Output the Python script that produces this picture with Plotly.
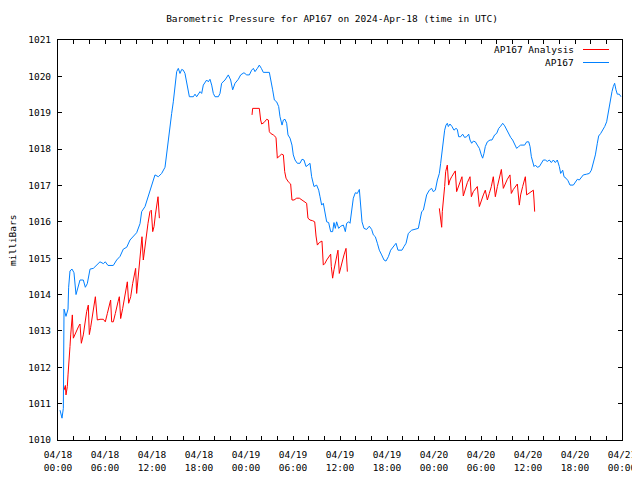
import pandas as pd
import plotly.graph_objects as go

BASE = pd.Timestamp("2024-04-18 00:00")

# AP167 observed pressure: hours since 2024-04-18 00:00 UTC, millibars
obs_hours = [0.26, 0.51, 0.68, 0.77, 1.02, 1.28, 1.36, 1.53, 1.79, 2.04, 2.30, 2.55, 2.81, 3.23, 3.49, 3.74,
             4.09, 4.51, 4.94, 5.36, 5.79, 6.04, 6.38, 7.06, 7.49, 7.92, 8.34, 8.77, 9.19, 9.62, 10.04, 10.47,
             10.68, 11.11, 11.53, 11.96, 12.38, 12.81, 13.23, 13.66, 13.87, 14.09, 14.30, 14.51, 14.72, 14.94,
             15.15, 15.36, 15.57, 15.79, 16.00, 16.21, 16.43, 16.64, 16.77, 17.28, 17.49, 17.70, 18.13, 18.34,
             18.55, 18.98, 19.19, 19.40, 19.62, 19.83, 20.04, 20.47, 20.68,
             20.89, 21.32, 21.74, 22.04, 22.30, 22.60, 23.02, 23.32, 23.74, 24.09, 24.43, 24.72, 24.94, 25.15,
             25.45, 25.70, 25.96, 26.21, 26.98, 27.15, 27.40, 27.62, 27.91, 28.17, 28.34, 28.60, 28.77, 28.98,
             29.19, 29.36, 29.62, 29.87, 30.04, 30.26, 30.55, 30.89, 31.15, 31.40, 31.66, 31.91, 32.17, 32.38,
             32.68, 33.02, 33.28, 33.45, 33.66, 33.87, 34.09, 34.30, 34.55, 34.81, 35.06, 35.23, 35.40, 35.57,
             35.83, 36.09, 36.43, 36.68, 36.85, 37.11, 37.28, 37.45, 37.70, 37.96, 38.21, 38.47, 38.64, 38.81,
             39.06, 39.40, 39.74, 40.04, 40.26, 40.51, 40.77, 41.02, 41.32, 41.62, 41.87, 42.17, 42.47, 42.81,
             43.15, 43.40, 43.91, 44.17, 44.43, 44.72, 45.15, 46.00, 46.21, 46.43, 46.64, 46.85, 47.06, 47.40,
             47.70, 47.91, 48.17, 48.43, 48.68, 48.85, 49.02, 49.19, 49.36, 49.53, 49.70, 49.83, 50.04, 50.30,
             50.55, 50.81, 50.98, 51.15, 51.40, 51.66, 51.91, 52.17, 52.43, 52.60, 52.81, 53.02, 53.28, 53.53,
             53.79, 54.04, 54.21, 54.38, 54.55, 54.81, 55.15, 55.40, 55.74, 56.00, 56.26, 56.51, 56.77, 57.02,
             57.28, 57.53, 57.79, 58.04, 58.30, 58.55, 58.81, 59.06, 59.57, 59.83, 60.09, 60.26, 60.43, 60.60,
             60.77, 60.94, 61.19, 61.45, 61.70, 61.96, 62.21, 62.47, 62.72, 62.98, 63.23, 63.49, 63.74, 64.00,
             64.17, 64.43, 64.60, 64.85, 65.11, 65.36, 65.79, 66.04, 66.30, 66.55, 66.81, 67.06, 67.49, 67.83,
             68.09, 68.34, 68.60, 68.85, 69.02, 69.28, 69.53, 69.79, 70.04, 70.21, 70.38, 70.55, 70.72, 70.89,
             71.06, 71.23, 71.40, 71.66, 71.87]
obs_mb = [1010.82, 1010.60, 1010.87, 1013.60, 1013.40, 1013.60, 1014.20, 1014.65, 1014.70, 1014.60, 1014.00,
          1014.20, 1014.40, 1014.40, 1014.20, 1014.30, 1014.70, 1014.72, 1014.80, 1014.90, 1014.85, 1014.90,
          1014.80, 1014.80, 1014.95, 1015.05, 1015.25, 1015.30, 1015.50, 1015.60, 1015.70, 1015.95, 1016.28,
          1016.42, 1016.70, 1016.97, 1017.29, 1017.24, 1017.33, 1017.50, 1017.88, 1018.39, 1018.70, 1018.98,
          1019.30, 1019.76, 1020.13, 1020.22, 1020.08, 1020.19, 1020.17, 1020.08, 1019.85, 1019.63, 1019.44,
          1019.44, 1019.51, 1019.44, 1019.58, 1019.53, 1019.76, 1019.90, 1019.85, 1019.92, 1019.76, 1019.53,
          1019.44, 1019.44, 1019.53,
          1019.81, 1019.90, 1020.04, 1019.90, 1019.63, 1019.81, 1019.92, 1020.04, 1020.10, 1020.04, 1020.04,
          1020.17, 1020.22, 1020.13, 1020.22, 1020.31, 1020.22, 1020.11, 1020.11, 1019.95, 1019.63, 1019.35,
          1019.30, 1019.17, 1018.89, 1018.66, 1018.80, 1018.82, 1018.71, 1018.39, 1018.30, 1018.11, 1017.84,
          1017.70, 1017.61, 1017.61, 1017.72, 1017.70, 1017.52, 1017.56, 1017.61, 1017.24, 1016.97, 1017.01,
          1016.87, 1016.69, 1016.46, 1016.51, 1016.23, 1016.00, 1015.98, 1015.73, 1015.73, 1015.98, 1015.82,
          1016.00, 1015.82, 1015.88, 1015.91, 1015.73, 1015.96, 1016.00, 1015.96, 1016.32, 1016.65, 1016.80,
          1016.78, 1016.89, 1016.51, 1016.00, 1015.82, 1015.79, 1015.88, 1015.79, 1015.64, 1015.59, 1015.41,
          1015.22, 1015.09, 1014.95, 1014.92, 1015.04, 1015.22, 1015.32, 1015.41, 1015.22, 1015.22, 1015.32,
          1015.41, 1015.68, 1015.77, 1015.82, 1016.05, 1016.28, 1016.32, 1016.51, 1016.74, 1016.87, 1016.92,
          1016.83, 1016.87, 1017.15, 1017.33, 1017.61, 1017.93, 1018.25, 1018.52, 1018.66, 1018.71, 1018.62,
          1018.69, 1018.62, 1018.52, 1018.57, 1018.54, 1018.34, 1018.34, 1018.41, 1018.32, 1018.34, 1018.41,
          1018.25, 1018.16, 1018.22, 1018.20, 1018.11, 1018.02, 1017.84, 1017.75, 1017.88, 1018.07, 1018.20,
          1018.25, 1018.25, 1018.39, 1018.43, 1018.57, 1018.63, 1018.71, 1018.64, 1018.52, 1018.43, 1018.32,
          1018.25, 1018.14, 1018.02, 1018.07, 1018.11, 1018.11, 1018.20, 1018.20, 1018.07, 1017.79, 1017.61,
          1017.52, 1017.56, 1017.50, 1017.52, 1017.61, 1017.70, 1017.70, 1017.66, 1017.70, 1017.63, 1017.70,
          1017.63, 1017.70, 1017.52, 1017.33, 1017.42, 1017.24, 1017.20, 1017.13, 1017.01, 1017.01, 1017.10,
          1017.17, 1017.15, 1017.24, 1017.29, 1017.31, 1017.33, 1017.42, 1017.61, 1017.84, 1018.16, 1018.36,
          1018.43, 1018.52, 1018.62, 1018.75, 1018.98, 1019.17, 1019.35, 1019.58, 1019.72, 1019.81, 1019.63,
          1019.51, 1019.51, 1019.44]

# AP167 Analysis: three separate forecast runs (None = gap)
ana_hours = [0.77, 0.94, 1.02, 1.19, 1.28, 1.36, 1.53, 1.62, 1.70, 1.83, 1.96, 2.13, 2.38, 2.64, 2.81, 2.98,
             3.23, 3.49, 3.66, 3.87, 4.00, 4.17, 4.43, 4.60, 4.77, 5.02, 5.36, 5.79, 6.04, 6.30, 6.55, 6.72,
             6.85, 7.06, 7.32, 7.49, 7.66, 7.83, 8.00, 8.26, 8.51, 8.68, 8.85, 9.02, 9.28, 9.53, 9.79, 9.91,
             10.04, 10.21, 10.38, 10.55, 10.72, 10.89, 11.06, 11.32, 11.49, 11.74, 11.91, 12.09, 12.26, 12.43,
             12.60, 12.77, 12.94,
             None,
             24.77, 24.85, 25.15, 25.70, 25.87, 26.00, 26.30, 26.64, 26.85, 26.98, 27.15, 27.49, 27.83, 28.00,
             28.26, 28.55, 28.77, 28.94, 29.11, 29.40, 29.70, 29.87, 30.13, 30.47, 30.81, 31.11, 31.53, 31.74,
             31.91, 32.17, 32.51, 32.77, 32.94, 33.11, 33.36, 33.70, 33.87, 34.09, 34.30, 34.55, 34.81, 34.89,
             35.06, 35.23, 35.40, 35.57, 35.74, 35.91, 36.09, 36.34, 36.51, 36.77, 36.94,
             None,
             48.68, 48.85, 48.98, 49.06, 49.19, 49.36, 49.49, 49.70, 49.87, 50.04, 50.26, 50.47, 50.72, 50.89,
             51.11, 51.32, 51.57, 51.74, 52.00, 52.26, 52.60, 52.77, 53.02, 53.28, 53.53, 53.79, 54.04, 54.30,
             54.55, 54.81, 55.06, 55.32, 55.57, 55.83, 56.09, 56.34, 56.60, 56.85, 57.11, 57.36, 57.70, 57.87,
             58.13, 58.38, 58.64, 58.89, 59.06, 59.32, 59.66, 59.83, 60.17, 60.51, 60.68, 60.77, 60.85]
ana_mb = [1011.37, 1011.50, 1011.24, 1011.47, 1011.79, 1012.15, 1012.57, 1012.89, 1013.20, 1013.44, 1012.80,
          1012.89, 1013.02, 1013.13, 1013.19, 1012.66, 1012.89, 1013.30, 1013.53, 1013.71, 1012.90, 1013.10,
          1013.53, 1013.76, 1013.94, 1013.30, 1013.32, 1013.32, 1013.25, 1013.48, 1013.67, 1013.85, 1013.25,
          1013.25, 1013.48, 1013.67, 1013.80, 1013.94, 1013.34, 1013.62, 1013.94, 1014.17, 1014.35, 1013.76,
          1013.94, 1014.30, 1014.58, 1014.72, 1014.03, 1014.44, 1014.72, 1015.22, 1015.59, 1014.95, 1015.27,
          1015.59, 1015.96, 1016.28, 1016.32, 1015.73, 1015.87, 1016.19, 1016.46, 1016.69, 1016.10,
          None,
          1018.94, 1019.12, 1019.12, 1019.12, 1018.80, 1018.69, 1018.73, 1018.82, 1018.80, 1018.48, 1018.43,
          1018.39, 1018.32, 1017.75, 1017.81, 1017.86, 1017.84, 1017.38, 1017.20, 1017.10, 1017.04, 1016.60,
          1016.60, 1016.65, 1016.65, 1016.60, 1016.55, 1016.51, 1016.10, 1016.05, 1016.03, 1016.00, 1015.61,
          1015.36, 1015.43, 1015.47, 1014.81, 1014.86, 1014.95, 1015.04, 1015.11, 1014.77, 1014.45, 1014.68,
          1014.86, 1015.06, 1015.22, 1014.58, 1014.77, 1014.95, 1015.09, 1015.27, 1014.63,
          None,
          1016.37, 1016.00, 1015.85, 1016.28, 1016.55, 1016.97, 1017.38, 1017.56, 1017.01, 1017.15, 1017.24,
          1017.33, 1017.40, 1016.83, 1016.97, 1017.10, 1017.24, 1016.71, 1016.92, 1017.08, 1017.24, 1016.69,
          1016.83, 1016.89, 1016.97, 1016.42, 1016.60, 1016.74, 1016.87, 1016.60, 1016.78, 1016.97, 1017.24,
          1016.69, 1016.97, 1017.24, 1017.44, 1016.92, 1017.06, 1017.17, 1017.29, 1016.78, 1016.89, 1016.97,
          1017.04, 1016.46, 1016.74, 1016.97, 1017.24, 1016.74, 1016.80, 1016.86, 1016.87, 1016.60, 1016.28]

tick_hours = list(range(0, 73, 2))
y_ticks = list(range(1010, 1022))

TITLE = "Barometric Pressure for AP167 on 2024-Apr-18 (time in UTC)"
Y_LABEL = "milliBars"
LEGEND_NAMES = ["AP167 Analysis", "AP167"]
RED = "#ff0000"
BLUE = "#0080ff"
FONT = "DejaVu Sans Mono"
FS = 9.5

# The page body has an 8px default margin; the figure is sized to fill the rest of the window.
OFF = 8
W, H = 640 - OFF, 480 - OFF
# plot frame in screen pixels
L, R, T, B = 58, 622, 40, 440


def to_time(hours):
    return [None if h is None else BASE + pd.Timedelta(hours=h) for h in hours]


def px(x):
    return (x - L) / (R - L)


def py(y):
    return (B - y) / (B - T)


tick_vals = to_time(tick_hours)
tick_text = [(BASE + pd.Timedelta(hours=h)).strftime("%m/%d<br>%H:%M") if h % 6 == 0 else ""
             for h in tick_hours]

fig = go.Figure()
fig.add_trace(go.Scatter(x=to_time(ana_hours), y=ana_mb, mode="lines", name=LEGEND_NAMES[0],
                         line=dict(color=RED, width=1), connectgaps=False))
fig.add_trace(go.Scatter(x=to_time(obs_hours), y=obs_mb, mode="lines", name=LEGEND_NAMES[1],
                         line=dict(color=BLUE, width=1)))

fig.update_layout(
    width=W, height=H,
    margin=dict(l=L - OFF, r=640 - R, t=T - OFF, b=480 - B, autoexpand=False),
    paper_bgcolor="white", plot_bgcolor="white",
    showlegend=False,
    font=dict(family=FONT, size=FS, color="black"),
    title=dict(text=TITLE, x=(332 - OFF) / W, xanchor="center", y=1 - (19 - OFF) / H, yanchor="middle",
               font=dict(family=FONT, size=FS, color="black")),
)
fig.update_xaxes(
    type="date", automargin=False,
    range=[BASE, BASE + pd.Timedelta(hours=72)],
    tickmode="array", tickvals=tick_vals, ticktext=tick_text,
    ticks="inside", ticklen=4, tickcolor="black", tickwidth=1,
    showline=True, linecolor="black", linewidth=1, mirror="ticks",
    showgrid=False, zeroline=False, ticklabelstandoff=6,
    tickfont=dict(family=FONT, size=FS),
)
fig.update_yaxes(
    automargin=False,
    range=[1010, 1021],
    tickmode="array", tickvals=y_ticks, ticktext=[str(v) for v in y_ticks],
    ticks="inside", ticklen=4, tickcolor="black", tickwidth=1,
    showline=True, linecolor="black", linewidth=1, mirror="ticks",
    showgrid=False, zeroline=False, ticklabelstandoff=4,
    tickfont=dict(family=FONT, size=FS),
)

fig.add_annotation(text=Y_LABEL, xref="paper", yref="paper", x=px(12), y=py(240),
                   xanchor="center", yanchor="middle", textangle=-90, showarrow=False,
                   font=dict(family=FONT, size=FS, color="black"))

# gnuplot-style legend: right-aligned text followed by a line sample
legend_rows = [(LEGEND_NAMES[0], RED, 49.5), (LEGEND_NAMES[1], BLUE, 62.5)]
for name, color, ypix in legend_rows:
    fig.add_annotation(text=name, xref="paper", yref="paper", x=px(576), y=py(ypix),
                       xanchor="right", yanchor="middle", showarrow=False,
                       font=dict(family=FONT, size=FS, color="black"))
    fig.add_shape(type="line", xref="paper", yref="paper",
                  x0=px(583), x1=px(609), y0=py(ypix), y1=py(ypix),
                  line=dict(color=color, width=1))

fig.write_html("out.html")
